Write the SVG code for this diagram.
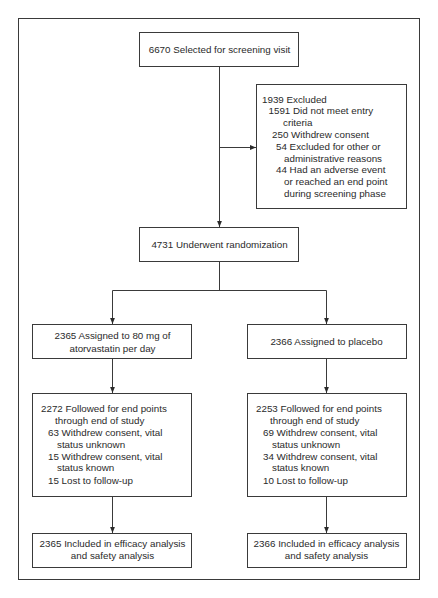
<svg xmlns="http://www.w3.org/2000/svg" width="438" height="598" viewBox="0 0 438 598">
<style>
  .box{fill:#fff;stroke:#3a3a3a;stroke-width:1}
  .frame{fill:none;stroke:#3a3a3a;stroke-width:1}
  .ln{fill:none;stroke:#3a3a3a;stroke-width:1}
  text{font-family:"Liberation Sans",Arial,sans-serif;font-size:9.8px;fill:#2a2a2a}
  .c{text-anchor:middle}
</style>
<defs>
  <marker id="ah" viewBox="0 0 10 10" refX="10" refY="5" markerWidth="6" markerHeight="6" markerUnits="userSpaceOnUse" orient="auto">
    <path d="M0,1 L10,5 L0,9 Z" fill="#2a2a2a"/>
  </marker>
</defs>
<rect x="0" y="0" width="438" height="598" fill="#fff"/>
<rect class="frame" x="18.5" y="18.5" width="401" height="561"/>
<g id="connectors">
  <line class="ln" x1="219.5" y1="66" x2="219.5" y2="227" marker-end="url(#ah)"/>
  <line class="ln" x1="219.5" y1="147.5" x2="256" y2="147.5" marker-end="url(#ah)"/>
  <polyline class="ln" points="219.5,262 219.5,290.5"/>
  <polyline class="ln" points="112.5,324 112.5,290.5 326.5,290.5 326.5,324"/>
  <line class="ln" x1="112.5" y1="310" x2="112.5" y2="324" marker-end="url(#ah)"/>
  <line class="ln" x1="326.5" y1="310" x2="326.5" y2="324" marker-end="url(#ah)"/>
  <line class="ln" x1="112.5" y1="359" x2="112.5" y2="393" marker-end="url(#ah)"/>
  <line class="ln" x1="326.5" y1="359" x2="326.5" y2="393" marker-end="url(#ah)"/>
  <line class="ln" x1="112.5" y1="497" x2="112.5" y2="533" marker-end="url(#ah)"/>
  <line class="ln" x1="326.5" y1="497" x2="326.5" y2="533" marker-end="url(#ah)"/>
</g>
<g id="screening">
  <rect class="box" x="139.5" y="32.5" width="159" height="34"/>
  <text class="c" x="219.5" y="52.5">6670 Selected for screening visit</text>
</g>
<g id="excluded">
  <rect class="box" x="256.5" y="84.5" width="150" height="124"/>
  <text x="262" y="102.5">1939 Excluded</text>
  <text x="268.5" y="114.3">1591 Did not meet entry</text>
  <text x="283" y="126.1">criteria</text>
  <text x="272" y="137.9">250 Withdrew consent</text>
  <text x="276" y="149.7">54 Excluded for other or</text>
  <text x="284" y="161.5">administrative reasons</text>
  <text x="276" y="173.3">44 Had an adverse event</text>
  <text x="284" y="185.1">or reached an end point</text>
  <text x="284" y="196.9">during screening phase</text>
</g>
<g id="randomization">
  <rect class="box" x="139.5" y="227.5" width="159" height="34"/>
  <text class="c" x="219.5" y="247.5">4731 Underwent randomization</text>
</g>
<g id="atorvastatin">
  <rect class="box" x="32.5" y="324.5" width="159" height="34"/>
  <text class="c" x="112.5" y="338.5">2365 Assigned to 80 mg of</text>
  <text class="c" x="112.5" y="351.5">atorvastatin per day</text>
</g>
<g id="placebo">
  <rect class="box" x="247.5" y="324.5" width="159" height="34"/>
  <text class="c" x="326.5" y="345">2366 Assigned to placebo</text>
</g>
<g id="followed-atorvastatin">
  <rect class="box" x="32.5" y="393.5" width="159" height="103"/>
  <text x="41" y="412.3">2272 Followed for end points</text>
  <text x="55" y="424.1">through end of study</text>
  <text x="48" y="435.9">63 Withdrew consent, vital</text>
  <text x="57" y="447.7">status unknown</text>
  <text x="48" y="459.5">15 Withdrew consent, vital</text>
  <text x="57" y="471.3">status known</text>
  <text x="48" y="483.8">15 Lost to follow-up</text>
</g>
<g id="followed-placebo">
  <rect class="box" x="247.5" y="393.5" width="159" height="103"/>
  <text x="256" y="412.3">2253 Followed for end points</text>
  <text x="270" y="424.1">through end of study</text>
  <text x="263" y="435.9">69 Withdrew consent, vital</text>
  <text x="272" y="447.7">status unknown</text>
  <text x="263" y="459.5">34 Withdrew consent, vital</text>
  <text x="272" y="471.3">status known</text>
  <text x="263" y="483.8">10 Lost to follow-up</text>
</g>
<g id="included-atorvastatin">
  <rect class="box" x="32.5" y="533.5" width="159" height="34"/>
  <text class="c" x="112.5" y="546.5">2365 Included in efficacy analysis</text>
  <text class="c" x="112.5" y="558.5">and safety analysis</text>
</g>
<g id="included-placebo">
  <rect class="box" x="247.5" y="533.5" width="159" height="34"/>
  <text class="c" x="326.5" y="546.5">2366 Included in efficacy analysis</text>
  <text class="c" x="326.5" y="558.5">and safety analysis</text>
</g>
</svg>
